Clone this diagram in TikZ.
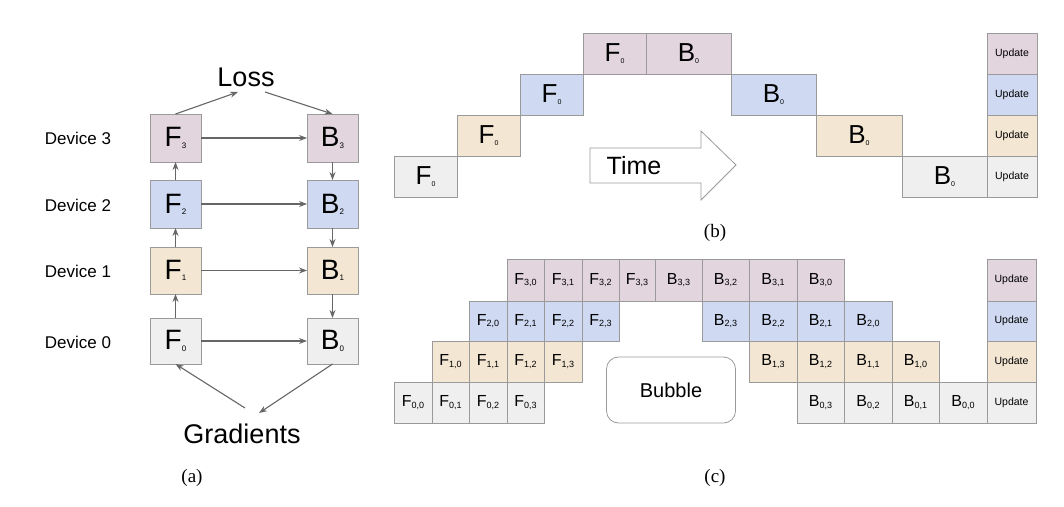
\documentclass[tikz,border=0pt]{standalone}
\usepackage{fontspec}
\setmainfont{Liberation Sans}
\newfontfamily\capfont{Liberation Serif}
\usetikzlibrary{arrows.meta}
\definecolor{cP}{HTML}{E2D5DE}
\definecolor{cB}{HTML}{CFDAF2}
\definecolor{cT}{HTML}{F3E6D3}
\definecolor{cG}{HTML}{EFEFEF}
\definecolor{bd}{HTML}{9A9A9A}
\definecolor{ar}{HTML}{666666}
\newcommand\fs[1]{\fontsize{#1}{#1}\selectfont}
\newcommand\lab[4]{{\fs{#3}#1}\raisebox{-0.12em}{\fs{#4}#2}}
\newcommand\cell[7]{\node[cell,fill=#6,minimum width={(#4-#2)*1pt},minimum height={(#5-#3)*1pt}] (#1) at ({(#2+#4)/2},{(#3+#5)/2}) {#7};}
\begin{document}
\begin{tikzpicture}[x=1pt,y=-1pt,
  cell/.style={draw=bd,line width=0.8pt,inner sep=0pt,outer sep=0pt},
  arr/.style={draw=ar,line width=1.1pt,-{Stealth[length=8pt,width=6pt]}},
  dev/.style={font=\fs{17}},
  big/.style={font=\fs{27}},
  capt/.style={font=\capfont\fs{19}}]
\useasboundingbox (0,0) rectangle (1064,506);
% ---------- (a)
\cell{aF3}{150}{114}{201}{162}{cP}{\lab{F}{3}{28}{8}}
\cell{aF2}{150}{180}{201}{228}{cB}{\lab{F}{2}{28}{8}}
\cell{aF1}{150}{247}{201}{294}{cT}{\lab{F}{1}{28}{8}}
\cell{aF0}{150}{318}{201}{364}{cG}{\lab{F}{0}{28}{8}}
\cell{aB3}{307}{114}{358}{162}{cP}{\lab{B}{3}{28}{8}}
\cell{aB2}{307}{180}{358}{228}{cB}{\lab{B}{2}{28}{8}}
\cell{aB1}{307}{247}{358}{294}{cT}{\lab{B}{1}{28}{8}}
\cell{aB0}{307}{318}{358}{364}{cG}{\lab{B}{0}{28}{8}}
\node[dev] (d3) at (78,138) {Device 3};
\node[dev] (d2) at (78,205) {Device 2};
\node[dev] (d1) at (78,271) {Device 1};
\node[dev] (d0) at (78,342) {Device 0};
\node[big] (loss) at (246,77) {Loss};
\node[big] (grad) at (242,434) {Gradients};
\node[capt] (ca) at (192,478) {(a)};
\coordinate (lossL) at (238,92);
\coordinate (lossR) at (265,92);
\coordinate (gradL) at (245,408);
\coordinate (gradR) at (259,413);
\foreach \i in {0,1,2,3} {\draw[arr] (aF\i) -- (aB\i);}
\draw[arr] (aF0) -- (aF1); \draw[arr] (aF1) -- (aF2); \draw[arr] (aF2) -- (aF3);
\draw[arr] (aB3) -- (aB2); \draw[arr] (aB2) -- (aB1); \draw[arr] (aB1) -- (aB0);
\draw[arr] (aF3.north) -- (lossL);
\draw[arr] (lossR) -- (aB3.north);
\draw[arr] (gradL) -- (aF0.south);
\draw[arr] (aB0.south) -- (gradR);
% ---------- (b)
\cell{bF0}{394}{156}{457}{197}{cG}{\lab{F}{0}{26}{7}}
\cell{bF1}{457}{115}{520}{156}{cT}{\lab{F}{0}{26}{7}}
\cell{bF2}{520}{74}{583}{115}{cB}{\lab{F}{0}{26}{7}}
\cell{bF3}{583}{33}{646}{74}{cP}{\lab{F}{0}{26}{7}}
\cell{bB3}{646}{33}{731}{74}{cP}{\lab{B}{0}{26}{7}}
\cell{bB2}{731}{74}{816}{115}{cB}{\lab{B}{0}{26}{7}}
\cell{bB1}{816}{115}{902}{156}{cT}{\lab{B}{0}{26}{7}}
\cell{bB0}{902}{156}{987}{197}{cG}{\lab{B}{0}{26}{7}}
\cell{bU3}{987}{33}{1037}{74}{cP}{\fs{10.5}Update}
\cell{bU2}{987}{74}{1037}{115}{cB}{\fs{10.5}Update}
\cell{bU1}{987}{115}{1037}{156}{cT}{\fs{10.5}Update}
\cell{bU0}{987}{156}{1037}{197}{cG}{\fs{10.5}Update}
\draw[draw=bd,line width=0.8pt,fill=white] (590,148) -- (701,148) -- (701,131) -- (736,165) -- (701,200) -- (701,183) -- (590,183) -- cycle;
\node[font=\fs{25}] (time) at (634,166) {Time};
\node[capt] (cb) at (715,233) {(b)};
% ---------- (c)
\def\sF#1#2{\lab{F}{#1,#2}{16}{9}}
\def\sB#1#2{\lab{B}{#1,#2}{16}{9}}
\def\ya{259}\def\yb{301}\def\yc{341}\def\yd{382}\def\ye{423}
\cell{c00}{394}{\yd}{432}{\ye}{cG}{\sF00}
\cell{c01}{432}{\yd}{469}{\ye}{cG}{\sF01}
\cell{c02}{469}{\yd}{507}{\ye}{cG}{\sF02}
\cell{c03}{507}{\yd}{544}{\ye}{cG}{\sF03}
\cell{c10}{432}{\yc}{469}{\yd}{cT}{\sF10}
\cell{c11}{469}{\yc}{507}{\yd}{cT}{\sF11}
\cell{c12}{507}{\yc}{544}{\yd}{cT}{\sF12}
\cell{c13}{544}{\yc}{582}{\yd}{cT}{\sF13}
\cell{c20}{469}{\yb}{507}{\yc}{cB}{\sF20}
\cell{c21}{507}{\yb}{544}{\yc}{cB}{\sF21}
\cell{c22}{544}{\yb}{582}{\yc}{cB}{\sF22}
\cell{c23}{582}{\yb}{619}{\yc}{cB}{\sF23}
\cell{c30}{507}{\ya}{544}{\yb}{cP}{\sF30}
\cell{c31}{544}{\ya}{582}{\yb}{cP}{\sF31}
\cell{c32}{582}{\ya}{619}{\yb}{cP}{\sF32}
\cell{c33}{619}{\ya}{655}{\yb}{cP}{\sF33}
\cell{d33}{655}{\ya}{702}{\yb}{cP}{\sB33}
\cell{d32}{702}{\ya}{749}{\yb}{cP}{\sB32}
\cell{d31}{749}{\ya}{797}{\yb}{cP}{\sB31}
\cell{d30}{797}{\ya}{844}{\yb}{cP}{\sB30}
\cell{d23}{702}{\yb}{749}{\yc}{cB}{\sB23}
\cell{d22}{749}{\yb}{797}{\yc}{cB}{\sB22}
\cell{d21}{797}{\yb}{844}{\yc}{cB}{\sB21}
\cell{d20}{844}{\yb}{892}{\yc}{cB}{\sB20}
\cell{d13}{749}{\yc}{797}{\yd}{cT}{\sB13}
\cell{d12}{797}{\yc}{844}{\yd}{cT}{\sB12}
\cell{d11}{844}{\yc}{892}{\yd}{cT}{\sB11}
\cell{d10}{892}{\yc}{939}{\yd}{cT}{\sB10}
\cell{d03}{797}{\yd}{844}{\ye}{cG}{\sB03}
\cell{d02}{844}{\yd}{892}{\ye}{cG}{\sB02}
\cell{d01}{892}{\yd}{939}{\ye}{cG}{\sB01}
\cell{d00}{939}{\yd}{987}{\ye}{cG}{\sB00}
\cell{cU3}{987}{\ya}{1036}{\yb}{cP}{\fs{10.5}Update}
\cell{cU2}{987}{\yb}{1036}{\yc}{cB}{\fs{10.5}Update}
\cell{cU1}{987}{\yc}{1036}{\yd}{cT}{\fs{10.5}Update}
\cell{cU0}{987}{\yd}{1036}{\ye}{cG}{\fs{10.5}Update}
\node[draw=bd,line width=0.8pt,rounded corners=12pt,minimum width=129pt,minimum height=66pt,font=\fs{20}] (bub) at (671,390) {Bubble};
\node[capt] (cc) at (715,478) {(c)};
\end{tikzpicture}
\end{document}
